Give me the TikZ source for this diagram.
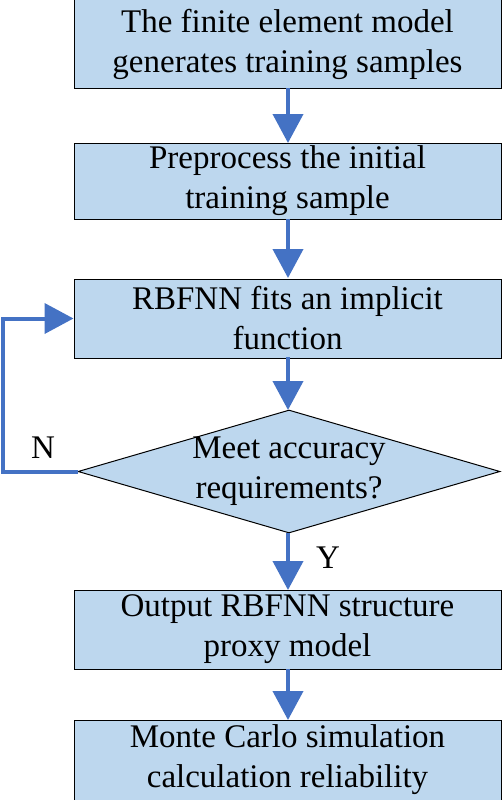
\documentclass[tikz,border=0pt]{standalone}
\usepackage{fontspec}
\setmainfont{Liberation Serif}
\usetikzlibrary{arrows.meta,shapes.geometric}
\definecolor{boxfill}{HTML}{BDD7EE}
\definecolor{arrowblue}{HTML}{4472C4}
\tikzset{
  stepbox/.style={draw=black,line width=1pt,fill=boxfill,rectangle,minimum width=427pt,inner sep=0pt,align=center,font=\fontsize{33}{40}\selectfont},
  decide/.style={draw=black,line width=1pt,fill=boxfill,diamond,minimum width=422pt,minimum height=123pt,inner sep=0pt},
  txt/.style={align=center,font=\fontsize{33}{40}\selectfont,inner sep=0pt},
  flow/.style={draw=arrowblue,line width=4pt,line join=miter,-{Triangle[width=30pt,length=29pt]}}
}
\begin{document}
\begin{tikzpicture}[x=1pt,y=1pt]
\useasboundingbox (0,0) rectangle (502,-800);
\node[stepbox,minimum height=88pt] (b1) at (287.5,-44) {The finite element model\\generates training samples};
\node[stepbox,minimum height=76pt] (b2) at (287.5,-181) {Preprocess the initial\\training sample};
\node[stepbox,minimum height=79pt] (b3) at (287.5,-318.5) {RBFNN fits an implicit\\function};
\node[decide] (d) at (289,-471.5) {};
\node[txt] (dt) at (289,-471.5) {Meet accuracy\\requirements?};
\node[stepbox,minimum height=79pt] (b5) at (287.5,-629.5) {Output RBFNN structure\\proxy model};
\node[stepbox,minimum height=80pt] (b6) at (287.5,-760) {Monte Carlo simulation\\calculation reliability};
\coordinate (lb) at (3,-471.5);
\coordinate (lt) at (3,-318.5);
\draw[flow] (288,-88) -- (288,-143);
\draw[flow] (288,-219) -- (288,-278);
\draw[flow] (288,-357) -- (288,-410);
\draw[flow] (288,-533) -- (288,-590);
\draw[flow] (288,-669) -- (288,-720);
\draw[flow] (d.west) -- (lb) -- (lt) -- (b3.west);
\node[txt] (nl) at (43,-448) {N};
\node[txt] (yl) at (328,-558) {Y};
\end{tikzpicture}
\end{document}
